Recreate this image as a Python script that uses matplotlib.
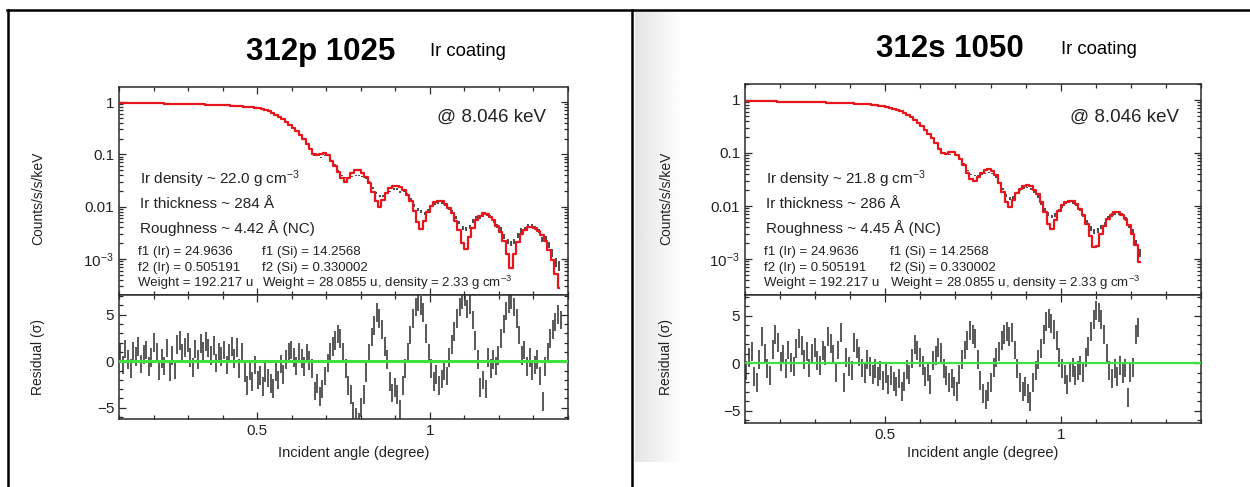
import numpy as np
import matplotlib.pyplot as plt
from matplotlib.lines import Line2D
from matplotlib.ticker import FixedLocator, FixedFormatter, MultipleLocator, LogLocator, NullFormatter

plt.rcParams['font.family'] = ['Liberation Sans', 'DejaVu Sans']
plt.rcParams['mathtext.fontset'] = 'custom'
plt.rcParams['mathtext.rm'] = 'Liberation Sans'
plt.rcParams['mathtext.it'] = 'Liberation Sans:italic'
plt.rcParams['mathtext.bf'] = 'Liberation Sans:bold'

# spectra: bins of 0.01 deg from 0.105 deg, values are log10(counts/s/keV)
bin_start = 0.105
bin_width = 0.01
# residuals: bins of 0.0075 deg from 0.10375 deg, in sigma
res_start = 0.10375
res_width = 0.0075

# 312p 1025
left_model = [
    -0.015, -0.016, -0.017, -0.018, -0.019, -0.020, -0.021, -0.022, -0.023, -0.024,
    -0.025, -0.026, -0.027, -0.028, -0.029, -0.030, -0.031, -0.032, -0.033, -0.035,
    -0.037, -0.039, -0.041, -0.043, -0.045, -0.047, -0.049, -0.051, -0.054, -0.057,
    -0.060, -0.063, -0.066, -0.070, -0.074, -0.079, -0.085, -0.092, -0.100, -0.110,
    -0.122, -0.137, -0.155, -0.178, -0.205, -0.240, -0.280, -0.325, -0.375, -0.430,
    -0.490, -0.555, -0.630, -0.710, -0.800,
    -0.900, -0.990, -1.010, -0.990, -0.980, -1.020, -1.120, -1.230, -1.340, -1.460,
    -1.530, -1.450, -1.350, -1.300, -1.300, -1.350, -1.430, -1.550, -1.720, -1.900,
    -2.000, -1.880, -1.740, -1.650, -1.610, -1.600, -1.620, -1.690, -1.780, -1.900,
    -2.080, -2.300, -2.430, -2.280, -2.100, -1.980, -1.910, -1.890, -1.900, -1.950,
    -2.030, -2.130, -2.270, -2.450, -2.700, -2.810, -2.580, -2.400, -2.260, -2.170,
    -2.130, -2.140, -2.190, -2.260, -2.360, -2.480, -2.650, -2.900, -3.170, -2.900,
    -2.680, -2.530, -2.440, -2.390, -2.380, -2.400, -2.460, -2.540, -2.650, -2.820,
    -3.020, -3.280, -3.550,
]
left_counts = [
    -0.012, -0.019, -0.014, -0.021, -0.016, -0.023, -0.018, -0.020, -0.026, -0.021,
    -0.028, -0.023, -0.030, -0.025, -0.032, -0.027, -0.034, -0.029, -0.036, -0.032,
    -0.040, -0.035, -0.043, -0.039, -0.048, -0.043, -0.052, -0.047, -0.057, -0.053,
    -0.063, -0.059, -0.069, -0.065, -0.077, -0.075, -0.089, -0.088, -0.104, -0.105,
    -0.127, -0.133, -0.160, -0.172, -0.211, -0.234, -0.286, -0.318, -0.381, -0.424,
    -0.496, -0.548, -0.636, -0.703, -0.806,
    -0.905, -1.020, -1.050, -1.060, -1.020, -1.050, -1.110, -1.200, -1.310, -1.400,
    -1.440, -1.460, -1.420, -1.400, -1.410, -1.420, -1.450, -1.530, -1.640, -1.740,
    -1.800, -1.800, -1.740, -1.710, -1.660, -1.660, -1.720, -1.700, -1.760, -1.860,
    -1.980, -2.060, -2.090, -2.120, -2.080, -1.990, -1.950, -1.930, -1.920, -1.960,
    -2.030, -2.100, -2.200, -2.300, -2.400, -2.430, -2.380, -2.270, -2.200, -2.210,
    -2.160, -2.140, -2.190, -2.270, -2.360, -2.430, -2.560, -2.660, -2.700, -2.660,
    -2.550, -2.450, -2.420, -2.360, -2.360, -2.400, -2.460, -2.620, -2.600, -2.720,
    -2.880, -3.060, -3.120,
]
left_resid = [
    0.9, -0.4, 1.3, 0.2, -0.8, 1.1, 0.5, 1.6, -0.3, 0.7,
    1.2, -0.6, 0.4, 2.0, 0.9, -1.0, 0.3, -0.5, 1.4, -1.1,
    0.6, -0.9, 1.8, 2.2, 0.8, 1.5, 2.0, 0.4, -0.7, 1.3,
    0.2, 1.9, 1.1, 2.1, 1.4, 0.6, 1.7, -0.2, 1.0, 0.5,
    1.2, -0.4, 0.8, 1.6, 0.3, 1.5, -0.8, 0.9, -1.2, -2.6,
    -1.0, -2.2, -0.4, -2.0, -1.5, -2.7, -1.2, -1.8, -2.4, -2.9,
    -1.1, -2.0, -0.3, -1.4, 0.2, 0.9, 1.2, 0.4, -0.5, 0.9,
    0.3, -0.6, 0.8, 0.1, -0.8, -3.2, -2.4, -3.8, -3.0, -1.6,
    -0.2, 1.0, 1.6, 2.2, 2.9, 2.4, 1.0, -0.8, -2.6, -3.6,
    -5.4, -6.0, -6.6, -5.0, -3.6, -1.2, 0.8, 2.6, 3.8, 5.2,
    4.6, 3.4, 1.6, 0.2, -2.2, -3.4, -2.8, -3.6, -5.2, -2.6,
    -0.8, 1.0, 2.8, 4.6, 5.8, 6.4, 6.0, 5.2, 3.0, 0.8,
    -0.8, -2.2, -1.4, -2.6, -1.9, -1.0, -1.6, 0.4, 1.8, 3.2,
    4.6, 5.8, 6.6, 6.9, 5.6, 6.1, 4.4, 2.2, 0.2, -2.8,
    -2.0, -3.0, 0.4, -0.8, 0.2, -0.5, 0.6, 2.4, 4.0, 5.4,
    6.2, 6.6, 5.8, 4.6, 2.8, 0.6, 1.2, -0.6, 0.4, -1.0,
    -0.4, 0.2, -1.6, -4.3, -0.6, 1.0, 2.4, 3.4, 4.2, 5.0,
    4.4,
]

# 312s 1050
right_model = [
    -0.020, -0.021, -0.022, -0.023, -0.024, -0.025, -0.026, -0.027, -0.028, -0.029,
    -0.030, -0.031, -0.032, -0.033, -0.034, -0.035, -0.036, -0.037, -0.038, -0.040,
    -0.042, -0.044, -0.046, -0.048, -0.050, -0.052, -0.054, -0.056, -0.059, -0.062,
    -0.065, -0.068, -0.072, -0.076, -0.080, -0.085, -0.091, -0.098, -0.106, -0.116,
    -0.128, -0.143, -0.161, -0.183, -0.210, -0.243, -0.282, -0.326, -0.375, -0.430,
    -0.490, -0.560, -0.635, -0.720, -0.820,
    -0.920, -1.000, -1.010, -0.990, -0.985, -1.030, -1.110, -1.230, -1.380, -1.490,
    -1.520, -1.460, -1.380, -1.320, -1.300, -1.340, -1.420, -1.560, -1.740, -1.920,
    -2.010, -1.880, -1.760, -1.670, -1.620, -1.610, -1.630, -1.690, -1.780, -1.920,
    -2.120, -2.340, -2.440, -2.260, -2.100, -1.990, -1.920, -1.900, -1.910, -1.960,
    -2.050, -2.170, -2.340, -2.560, -2.780, -2.760, -2.530, -2.380, -2.250, -2.160,
    -2.120, -2.110, -2.160, -2.250, -2.360, -2.520, -2.740, -3.050,
]
right_counts = [
    -0.018, -0.024, -0.019, -0.026, -0.021, -0.028, -0.023, -0.025, -0.031, -0.026,
    -0.033, -0.028, -0.035, -0.030, -0.037, -0.032, -0.039, -0.034, -0.041, -0.037,
    -0.045, -0.040, -0.049, -0.044, -0.053, -0.048, -0.058, -0.052, -0.063, -0.058,
    -0.069, -0.064, -0.076, -0.072, -0.084, -0.081, -0.095, -0.094, -0.110, -0.112,
    -0.133, -0.139, -0.166, -0.178, -0.215, -0.238, -0.288, -0.320, -0.381, -0.424,
    -0.496, -0.554, -0.641, -0.714, -0.826,
    -0.925, -1.000, -1.030, -1.030, -1.020, -1.050, -1.100, -1.200, -1.330, -1.410,
    -1.430, -1.420, -1.410, -1.390, -1.370, -1.380, -1.450, -1.560, -1.680, -1.800,
    -1.860, -1.840, -1.750, -1.700, -1.660, -1.650, -1.680, -1.740, -1.820, -1.950,
    -2.060, -2.150, -2.200, -2.170, -2.080, -2.010, -1.940, -1.920, -1.930, -1.980,
    -2.060, -2.180, -2.300, -2.420, -2.480, -2.460, -2.400, -2.330, -2.220, -2.170,
    -2.140, -2.130, -2.160, -2.240, -2.380, -2.480, -2.700, -2.880,
]
right_resid = [
    -0.8, 0.6, 1.2, -1.4, -2.0, 0.4, 2.8, 1.0, -0.6, -1.3,
    1.5, 3.0, 2.2, 0.2, 0.9, -0.6, 1.4, 0.1, -0.3, 1.6,
    2.6, 1.9, 0.4, 1.2, -0.5, 1.0, 1.7, 0.3, -0.2, 1.3,
    0.8, 2.8, 2.1, 0.9, -1.0, 1.4, 3.2, -2.0, 0.6, -0.3,
    -0.8, 2.2, 1.6, 0.7, -0.5, -1.1, 0.4, -0.3, -1.2, -0.6,
    -1.4, -0.8, -1.8, -1.1, -2.2, -1.3, -1.9, -2.5, -1.6, -3.0,
    -1.9, -0.7, -1.2, 0.5, 2.0, 1.3, 0.6, -0.2, -1.4, -0.9,
    -2.2, 0.3, 0.8, 1.7, 1.1, -0.6, -1.3, -2.0, -1.6, -2.5,
    -3.0, -1.2, 0.4, 1.4, 2.4, 3.5, 3.0, 2.6, 0.4, -1.8,
    -3.2, -3.8, -3.0, -2.0, -0.4, 0.6, 1.2, 2.4, 3.0, 3.4,
    2.8, 3.2, 1.4, -0.6, -2.0, -3.0, -2.4, -3.2, -4.0, -2.0,
    -0.8, 0.4, 1.6, 3.0, 4.4, 4.7, 4.2, 3.6, 2.4, 0.6,
    -0.6, -1.2, -2.2, -1.0, -0.4, -1.3, -0.8, -0.2, -1.0, 0.6,
    1.8, 3.4, 4.6, 5.6, 5.4, 4.6, 3.0, 1.0, -0.8, -1.6,
    -0.6, -1.4, -0.2, -1.1, -0.5, -3.6, -1.0, -0.4, 3.0, 3.8,
]

left_title = '312p 1025'
left_fit = ['Ir density ~ 22.0 g cm$^{-3}$', 'Ir thickness ~ 284 Å', 'Roughness ~ 4.42 Å (NC)']
right_title = '312s 1050'
right_fit = ['Ir density ~ 21.8 g cm$^{-3}$', 'Ir thickness ~ 286 Å', 'Roughness ~ 4.45 Å (NC)']
coating = 'Ir coating'
energy_label = '@ 8.046 keV'
constants_ir = ['f1 (Ir) = 24.9636', 'f2 (Ir) = 0.505191', 'Weight = 192.217 u']
constants_si = ['f1 (Si) = 14.2568', 'f2 (Si) = 0.330002',
                'Weight = 28.0855 u, density = 2.33 g cm$^{-3}$']
log_ticks = [1, 0.1, 0.01, 0.001]
log_tick_labels = ['1', '0.1', '0.01', '$10^{-3}$']
exposure = 3.0e4  # scales counts/s/keV to photon counts for the error bars

W, H = 1250, 487
fig = plt.figure(figsize=(W / 100, H / 100), dpi=100)

RED = '#e8161c'
GREEN = '#3fe23f'
INK = '#2b2b2b'
TXT = '#222222'


def px_axes(x0, y0, x1, y1, **kw):
    return fig.add_axes([x0 / W, 1 - y1 / H, (x1 - x0) / W, (y1 - y0) / H], **kw)


def ftext(x, y, s, **kw):
    fig.text(x / W, 1 - y / H, s, **kw)


def style_axis(ax):
    for sp in ax.spines.values():
        sp.set_linewidth(1.1)
        sp.set_color(INK)
    ax.tick_params(which='both', direction='in', top=True, right=True,
                   colors=INK, labelsize=11, labelcolor=TXT, width=0.9)
    ax.tick_params(which='major', length=5)
    ax.tick_params(which='minor', length=3)
    ax.set_xlim(0.1, 1.4)
    ax.xaxis.set_major_locator(FixedLocator([0.5, 1.0]))
    ax.xaxis.set_minor_locator(MultipleLocator(0.1))


def draw_panel(model, counts, resid, box, ylim_top, ylim_res, green_lw):
    x0, y_top, x1, y_mid, y_bot = box
    angle = bin_start + bin_width * np.arange(len(model))
    res_angle = res_start + res_width * np.arange(len(resid))
    model_y = 10.0 ** np.asarray(model)
    counts_y = 10.0 ** np.asarray(counts)
    err = np.sqrt(counts_y / exposure)
    resid = np.asarray(resid)

    ax = px_axes(x0, y_top, x1, y_mid)
    ax.set_yscale('log')
    ax.vlines(angle, counts_y - err, counts_y + err, color='#1a1a1a', lw=1.1, zorder=2)
    ax.step(angle, model_y, where='mid', color=RED, lw=1.6, zorder=3)
    ax.set_ylim(*ylim_top)
    style_axis(ax)
    ax.yaxis.set_major_locator(FixedLocator(log_ticks))
    ax.yaxis.set_major_formatter(FixedFormatter(log_tick_labels))
    ax.yaxis.set_minor_locator(LogLocator(base=10, subs=np.arange(2, 10)))
    ax.yaxis.set_minor_formatter(NullFormatter())
    ax.tick_params(axis='x', labelbottom=False)

    axr = px_axes(x0, y_mid, x1, y_bot)
    axr.vlines(res_angle, resid - 1, resid + 1, color=INK, lw=1.1, zorder=2)
    axr.axhline(0, color=GREEN, lw=green_lw, zorder=3)
    axr.set_ylim(*ylim_res)
    style_axis(axr)
    axr.yaxis.set_major_locator(FixedLocator([-5, 0, 5]))
    axr.yaxis.set_minor_locator(MultipleLocator(1))
    axr.set_xticklabels(['0.5', '1'])
    return ax, axr


def annotate_panel(title, fit_lines, title_x, coat_x, energy_x, text_x, col1_x, col2_x,
                   title_y, ylab_x, xlab_x):
    ftext(title_x, title_y, title, fontsize=22.5, fontweight='bold', ha='center', va='center')
    ftext(coat_x, title_y, coating, fontsize=13.3, ha='left', va='center')
    ftext(energy_x, 117, energy_label, fontsize=13.5, ha='right', va='center', color=TXT)
    for i, line in enumerate(fit_lines):
        ftext(text_x, 179 + 24.5 * i, line, fontsize=11, ha='left', va='center', color=TXT)
    for i, (a, b) in enumerate(zip(constants_ir, constants_si)):
        ftext(col1_x, 252 + 15.5 * i, a, fontsize=9.5, ha='left', va='center', color=TXT)
        ftext(col2_x, 252 + 15.5 * i, b, fontsize=9.5, ha='left', va='center', color=TXT)
    ftext(ylab_x, 198, 'Counts/s/s/keV', fontsize=10, rotation=90, ha='center', va='center',
          color=TXT)
    ftext(ylab_x, 357, 'Residual (σ)', fontsize=10, rotation=90, ha='center', va='center',
          color=TXT)
    ftext(xlab_x, 453, 'Incident angle (degree)', fontsize=10.5, ha='center', va='center',
          color=TXT)


# scanner shadow along the left edge of the second page
shade = px_axes(635, 10, 682, 462, zorder=0)
shade.imshow(np.linspace(0.895, 1.0, 64)[None, :], cmap='gray', vmin=0, vmax=1,
             aspect='auto', extent=[0, 1, 0, 1])
shade.axis('off')

draw_panel(left_model, left_counts, left_resid, (119, 87, 568, 295, 419),
           (2.05e-4, 1.94), (-6.2, 7.1), 2.2)
draw_panel(right_model, right_counts, right_resid, (745, 84, 1201, 295, 423),
           (2.1e-4, 2.0), (-6.3, 7.2), 1.6)

annotate_panel(left_title, left_fit, 321, 430, 546, 140, 138, 262, 52, 38, 354)
annotate_panel(right_title, right_fit, 950, 1061, 1179, 766, 764, 890, 49, 666, 983)

# table rules around the two figures
for xs, ys in [((7, W), (10, 10)), ((8, 8), (10, H)), ((632, 632), (10, H))]:
    fig.add_artist(Line2D([x / W for x in xs], [1 - y / H for y in ys],
                          transform=fig.transFigure, color='black', lw=1.8))

fig.savefig('out.png', dpi=100, facecolor='white')
